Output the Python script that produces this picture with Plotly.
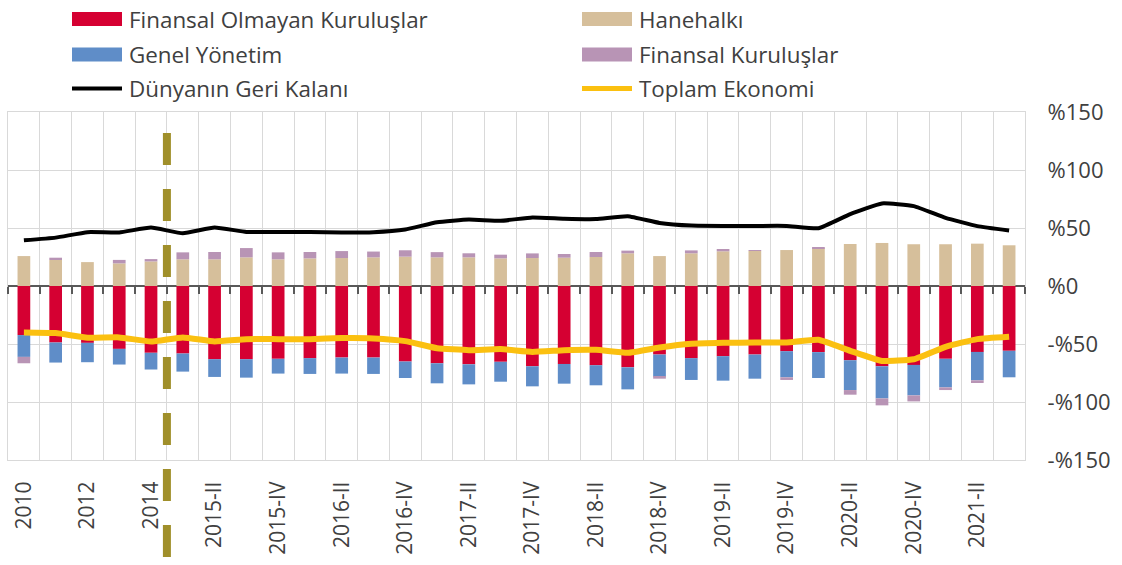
import plotly.graph_objects as go

# categories: yearly 2010-2014, then quarterly 2015-I .. 2021-III
years = ['2010', '2011', '2012', '2013', '2014']
quarters = []
for yr in range(2015, 2022):
    for q in ['I', 'II', 'III', 'IV']:
        quarters.append(f'{yr}-{q}')
quarters = quarters[:quarters.index('2021-III') + 1]
categories = years + quarters

finansal_olmayan = [-42.3, -48.7, -49.0, -54.2, -57.6, -58.2, -63.1, -63.1, -62.8, -62.2,
                    -61.7, -61.7, -65.1, -66.6, -67.5, -65.4, -69.2, -67.2, -68.3, -70.1,
                    -59.1, -62.2, -60.5, -59.1, -56.2, -57.0, -64.0, -69.2, -68.0, -62.8,
                    -56.8, -55.9]
hanehalki = [25.8, 22.4, 20.6, 19.5, 21.2, 23.0, 23.0, 24.7, 23.0, 23.8,
             24.1, 24.7, 25.3, 24.7, 24.7, 23.8, 24.1, 24.4, 25.0, 28.2,
             25.8, 28.2, 29.9, 30.2, 31.0, 32.5, 36.2, 37.1, 36.0, 36.0,
             36.5, 35.1]
genel_yonetim = [-18.8, -17.3, -16.7, -13.5, -14.4, -15.6, -15.3, -15.9, -12.7, -13.6,
                 -13.8, -14.1, -14.2, -17.3, -17.3, -17.1, -17.3, -17.0, -17.3, -19.0,
                 -19.1, -18.8, -21.1, -20.8, -22.5, -22.3, -25.7, -27.7, -26.3, -24.6,
                 -24.5, -22.8]
finansal_kurulus = [-5.5, 2.0, 0.0, 3.0, 2.0, 6.0, 6.3, 8.0, 6.0, 5.5,
                    6.0, 5.0, 5.5, 4.5, 3.5, 3.2, 4.0, 3.2, 4.3, 2.3,
                    -1.7, 2.5, 2.0, 0.5, -2.3, 0.8, -4.0, -6.0, -5.2, -2.3,
                    -2.3, 0.0]
dunya = [39.4, 41.7, 46.4, 46.2, 50.4, 45.5, 50.4, 46.6, 46.6, 46.6,
         46.1, 46.4, 48.7, 55.0, 57.3, 56.2, 59.1, 58.0, 57.7, 60.2,
         54.4, 52.1, 51.8, 51.8, 51.8, 49.8, 62.0, 71.2, 68.9, 58.8,
         51.6, 47.8]
toplam = [-40.0, -40.6, -44.6, -44.3, -47.8, -44.3, -47.8, -45.8, -45.8, -45.8,
          -44.9, -45.2, -47.5, -53.6, -55.3, -54.4, -56.8, -55.3, -55.0, -57.6,
          -53.0, -49.8, -49.0, -48.7, -48.7, -46.4, -55.9, -64.6, -63.1, -52.4,
          -45.8, -43.8]

y_ticks = [-150, -100, -50, 0, 50, 100, 150]
y_ticktext = ['-%150', '-%100', '-%50', '%0', '%50', '%100', '%150']
x_ticktext = [c if i % 2 == 0 else '' for i, c in enumerate(categories)]

RED = '#D50032'
BLUE = '#5F8DC8'
TAN = '#D6BF9B'
PURPLE = '#B894B5'
YELLOW = '#FBC010'
OLIVE = '#A08F2A'
TXT = '#404040'
GRID = '#D9D9D9'

W, H = 1122, 565
ML, MR, MT, MB = 8, 97, 112, 105


def px2x(px):
    # pixel -> paper x
    return (px - ML) / (W - ML - MR)


def px2y(py):
    # pixel -> paper y
    return (H - MB - py) / (H - MT - MB)


fig = go.Figure()

series = [
    ('Finansal Olmayan Kuruluşlar', finansal_olmayan, RED),
    ('Hanehalkı', hanehalki, TAN),
    ('Genel Yönetim', genel_yonetim, BLUE),
    ('Finansal Kuruluşlar', finansal_kurulus, PURPLE),
]
for name, vals, col in series:
    fig.add_trace(go.Bar(
        x=categories, y=vals, name=name, marker_color=col,
        marker_line_width=0, width=0.4, showlegend=False,
    ))

fig.add_trace(go.Scatter(
    x=categories, y=dunya, name='Dünyanın Geri Kalanı', mode='lines',
    line=dict(color='black', width=4, shape='spline', smoothing=0.4),
    showlegend=False,
))
fig.add_trace(go.Scatter(
    x=categories, y=toplam, name='Toplam Ekonomi', mode='lines',
    line=dict(color=YELLOW, width=6, shape='spline', smoothing=0.4),
    showlegend=False,
))

# helper trace so the zero-line tick axis gets drawn
fig.add_trace(go.Scatter(
    x=categories, y=[None] * len(categories), xaxis='x2', mode='lines',
    showlegend=False, hoverinfo='skip',
))

# dashed separator between annual and quarterly data
fig.add_shape(type='line', xref='x', yref='paper', x0=4.5, x1=4.5,
              y0=px2y(133), y1=px2y(560),
              line=dict(color=OLIVE, width=8, dash='32px,24px'), layer='above')

# manual legend
legend_items = [
    ('Finansal Olmayan Kuruluşlar', RED, 'bar', 72, 19),
    ('Hanehalkı', TAN, 'bar', 582, 19),
    ('Genel Yönetim', BLUE, 'bar', 72, 54.5),
    ('Finansal Kuruluşlar', PURPLE, 'bar', 582, 54.5),
    ('Dünyanın Geri Kalanı', 'black', 'line', 72, 88.5),
    ('Toplam Ekonomi', YELLOW, 'line', 582, 88.5),
]
for label, col, kind, lx, ly in legend_items:
    if kind == 'bar':
        fig.add_shape(type='rect', xref='paper', yref='paper',
                      x0=px2x(lx), x1=px2x(lx + 50), y0=px2y(ly - 7), y1=px2y(ly + 7),
                      fillcolor=col, line_width=0)
    else:
        fig.add_shape(type='line', xref='paper', yref='paper',
                      x0=px2x(lx), x1=px2x(lx + 50), y0=px2y(ly), y1=px2y(ly),
                      line=dict(color=col, width=5 if col == YELLOW else 4))
    fig.add_annotation(x=px2x(lx + 55), y=px2y(ly), xref='paper', yref='paper',
                       text=label, showarrow=False, xanchor='left', yanchor='middle',
                       font=dict(size=22.4, color=TXT))

fig.update_layout(
    width=W, height=H,
    margin=dict(l=ML, r=MR, t=MT, b=MB, autoexpand=False),
    barmode='relative',
    plot_bgcolor='white', paper_bgcolor='white',
    font=dict(family='Open Sans', color=TXT, size=22),
    xaxis=dict(
        type='category', categoryorder='array', categoryarray=categories,
        range=[-0.5, len(categories) - 0.5],
        tickmode='array', tickvals=categories, ticktext=x_ticktext,
        tickson='boundaries', ticks='', tickangle=-90,
        tickfont=dict(size=21, color=TXT), ticklabelstandoff=12,
        showgrid=True, gridcolor=GRID, gridwidth=1.3,
        showline=True, linecolor=GRID, linewidth=1.3, mirror=True,
    ),
    xaxis2=dict(
        type='category', categoryorder='array', categoryarray=categories,
        range=[-0.5, len(categories) - 0.5],
        overlaying='x', anchor='free', position=(0 - (-150)) / 300,
        tickmode='array', tickvals=categories, tickson='boundaries',
        ticks='outside', ticklen=7, tickwidth=2, tickcolor='#595959',
        showticklabels=False, showgrid=False, showline=False,
    ),
    yaxis=dict(
        side='right', range=[-150, 150],
        tickmode='array', tickvals=y_ticks, ticktext=y_ticktext,
        tickfont=dict(size=22, color=TXT), ticklabelstandoff=17,
        showgrid=True, gridcolor=GRID, gridwidth=1.3,
        zeroline=True, zerolinecolor='#595959', zerolinewidth=2,
        showline=True, linecolor=GRID, linewidth=1.3, mirror=True,
    ),
)

# drop the default 8px page margin so the figure fills the window
fig.write_html('out.html', config={'displayModeBar': False},
               post_script="document.body.style.margin='0';")
